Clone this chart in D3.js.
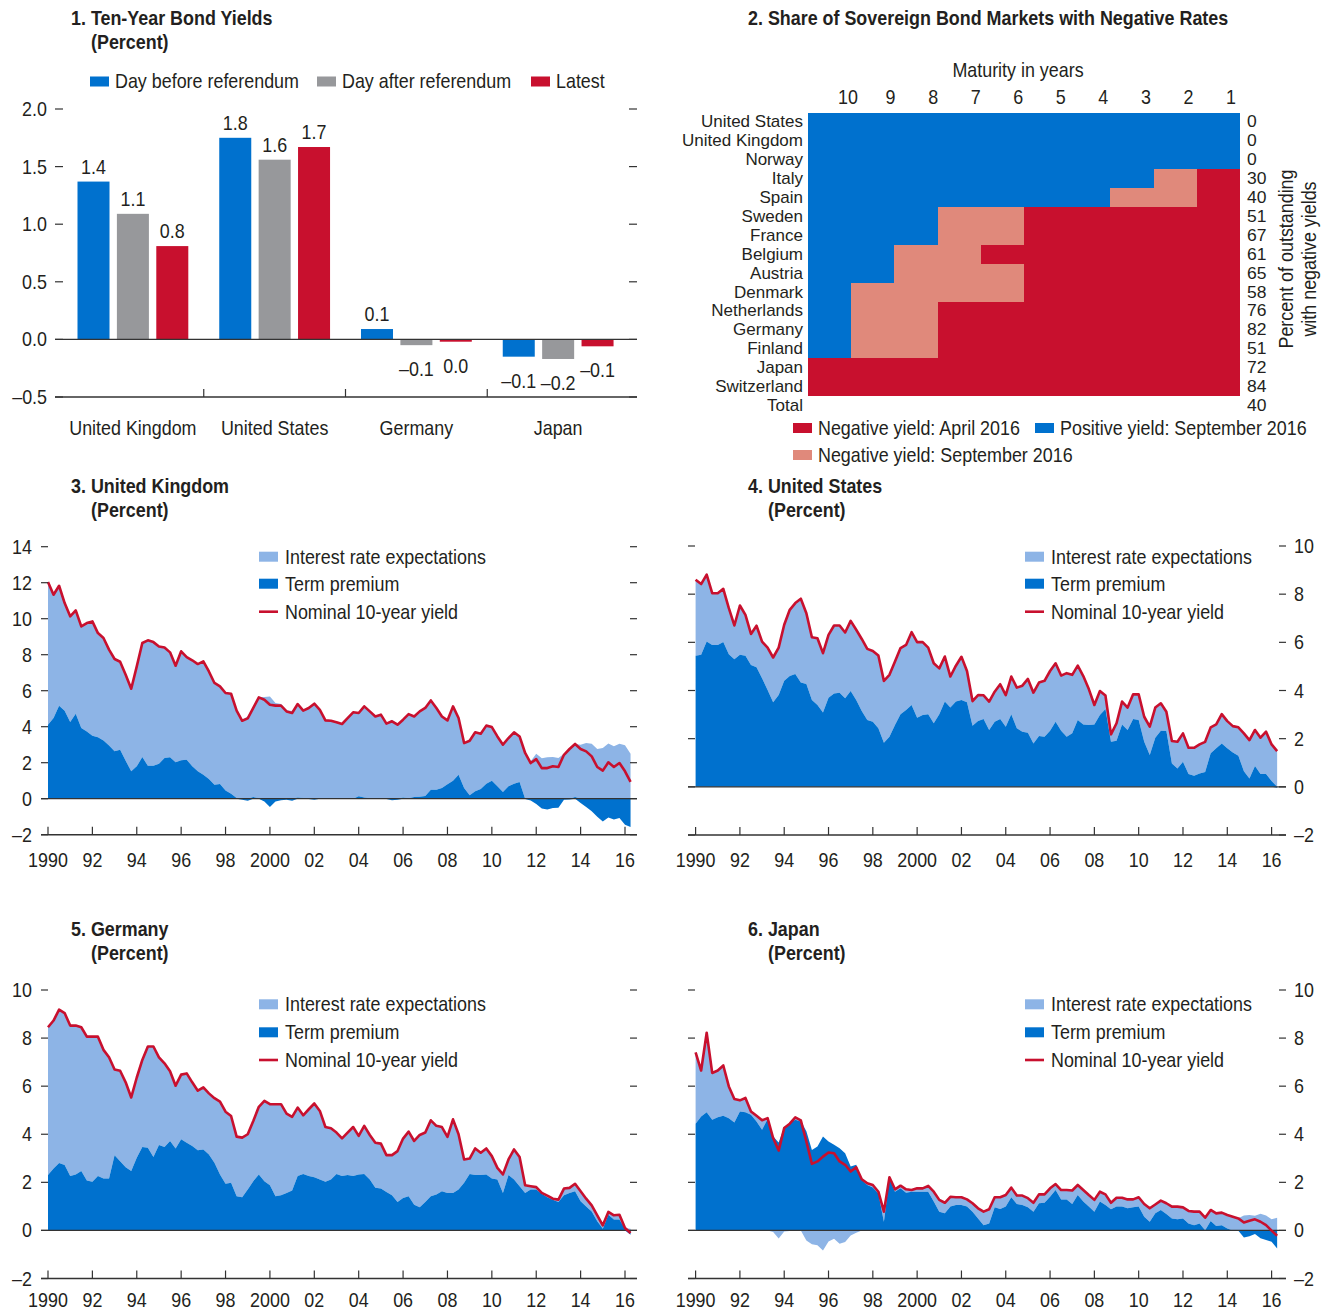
<!DOCTYPE html>
<html><head><meta charset="utf-8">
<script src="https://cdn.jsdelivr.net/npm/d3@7"></script>
<style>
body{margin:0;background:#fff;}
svg text{font-family:"Liberation Sans",Arimo,Arial,sans-serif;fill:#231f20;font-size:20px;}
</style></head><body>
<svg id="c" width="1335" height="1313"></svg>
<script>
// ---------- Panel 1 data ----------
const barCountries = ["United Kingdom","United States","Germany","Japan"];
const barSeries = ["Day before referendum","Day after referendum","Latest"];
const dayBefore = [1.37, 1.75, 0.09, -0.15];
const dayAfter  = [1.09, 1.56, -0.05, -0.17];
const latest    = [0.81, 1.67, -0.02, -0.06];
const barLabels = [["1.4","1.1","0.8"],["1.8","1.6","1.7"],["0.1","–0.1","0.0"],["–0.1","–0.2","–0.1"]];
const barTicks = [-0.5, 0, 0.5, 1.0, 1.5, 2.0];

// ---------- Panel 2 data ----------
const heatCountries = ["United States","United Kingdom","Norway","Italy","Spain","Sweden","France","Belgium","Austria","Denmark","Netherlands","Germany","Finland","Japan","Switzerland"];
const maturities = [10,9,8,7,6,5,4,3,2,1];
// B = positive yield Sep 2016, P = negative yield Sep 2016, R = negative yield Apr 2016 (maturity 10 ... 1)
const heatStatus = ["BBBBBBBBBB","BBBBBBBBBB","BBBBBBBBBB","BBBBBBBBPR","BBBBBBBPPR","BBBPPRRRRR","BBBPPRRRRR","BBPPRRRRRR","BBPPPRRRRR","BPPPPRRRRR","BPPRRRRRRR","BPPRRRRRRR","BPPRRRRRRR","RRRRRRRRRR","RRRRRRRRRR"];
const heatShare = [0,0,0,30,40,51,67,61,65,58,76,82,51,72,84];
const totalShare = 40;

// ---------- Panels 3-6 data (quarterly, 1990:Q1 - 2016:Q2) ----------
const yearTicks = [1990,1992,1994,1996,1998,2000,2002,2004,2006,2008,2010,2012,2014,2016];
const yearLabels = ["1990","92","94","96","98","2000","02","04","06","08","10","12","14","16"];

const ukYield = [12.04,11.33,11.83,10.87,10.13,10.46,9.57,9.76,9.85,9.2,8.93,8.28,7.76,7.61,6.89,6.11,7.35,8.65,8.8,8.7,8.46,8.4,8.13,7.39,8.19,7.87,7.69,7.48,7.63,7.07,6.43,6.24,5.87,5.83,4.89,4.33,4.46,5.04,5.63,5.5,5.22,5.17,5.17,4.85,4.76,5.26,4.89,5.04,5.28,4.94,4.35,4.33,4.25,
4.15,4.48,4.8,4.76,5.13,4.85,4.57,4.67,4.17,4.3,4.11,4.39,4.7,4.57,4.85,5.04,5.46,5.04,4.57,4.35,5.13,4.48,3.09,3.22,3.69,3.61,4.06,3.98,3.46,3.0,3.37,3.69,3.46,2.54,1.98,2.2,1.7,1.7,1.8,1.76,2.44,2.76,3.04,2.76,2.63,2.35,1.76,1.56,2.02,1.76,1.98,1.52,0.93];
const ukTP = [4.11,4.48,5.17,4.89,4.26,4.72,3.93,3.74,3.5,3.41,3.24,2.96,2.63,2.72,2.11,1.52,1.8,2.31,1.83,1.83,1.94,2.26,2.3,2.02,2.13,2.17,1.8,1.52,1.33,1.09,0.78,0.81,0.46,0.28,0.04,-0.06,-0.11,0.09,0.02,-0.15,-0.46,-0.15,-0.09,-0.06,-0.11,0.07,0.04,-0.02,-0.06,0.02,0.04,0.04,0.02,
-0.02,0.02,-0.02,0.13,0.06,0.02,0,0.02,-0.02,-0.09,-0.06,0.06,0.02,0.09,0.11,0.15,0.5,0.5,0.6,0.8,1.0,1.33,0.6,0.19,0.41,0.54,0.83,1.0,0.69,0.37,0.69,0.83,0.93,-0.02,-0.1,-0.3,-0.55,-0.6,-0.52,-0.5,-0.06,-0.04,0.09,-0.24,-0.46,-0.7,-1.0,-1.26,-1.05,-1.15,-1.07,-1.45,-1.57];

const usYield = [8.6,8.42,8.81,8.04,8.04,8.22,7.42,6.7,7.53,7.14,6.35,6.69,6.03,5.78,5.37,5.78,6.73,7.35,7.63,7.81,7.21,6.21,6.17,5.55,6.31,6.7,6.7,6.41,6.89,6.52,6.14,5.73,5.64,5.45,4.4,4.65,5.2,5.76,5.89,6.42,6.01,6.01,5.78,5.13,4.92,5.41,4.58,5.03,5.4,4.81,3.56,3.81,
3.8,3.54,3.95,4.26,3.81,4.58,4.12,4.2,4.48,3.91,4.33,4.4,4.81,5.13,4.62,4.72,4.65,5.03,4.6,4.06,3.4,3.98,3.79,2.18,2.64,3.54,3.29,3.84,3.84,2.91,2.5,3.29,3.47,3.12,1.9,1.87,2.22,1.62,1.62,1.76,1.87,2.47,2.59,3.02,2.73,2.52,2.47,2.22,1.94,2.36,2.04,2.29,1.76,1.48];
const usTP = [5.44,5.48,6.03,5.89,5.89,6.01,5.51,5.3,5.48,5.44,5.06,4.97,4.51,4.02,3.51,3.81,4.4,4.6,4.69,4.33,4.27,3.61,3.4,3.09,3.7,3.88,3.91,3.68,3.98,3.61,3.15,2.77,2.7,2.43,1.83,2.08,2.57,3.01,3.19,3.4,2.87,2.98,3.01,2.64,3.01,3.54,3.29,3.54,3.61,3.51,2.54,2.73,
2.82,2.36,2.7,2.82,2.5,3.01,2.43,2.29,2.25,1.8,2.11,2.08,2.33,2.7,2.33,2.08,2.22,2.77,2.59,2.57,2.59,2.98,3.23,1.87,1.91,2.59,2.36,2.82,2.77,1.87,1.32,2.04,2.33,2.32,0.97,0.76,1.04,0.53,0.46,0.55,0.62,1.39,1.6,1.8,1.6,1.43,1.29,0.65,0.35,0.86,0.53,0.53,0.24,-0.04];

const deYield = [8.45,8.73,9.18,9.04,8.52,8.52,8.45,8.06,8.06,8.06,7.51,7.2,6.69,6.64,6.16,5.53,6.36,7.09,7.65,7.65,7.2,6.95,6.62,6.02,6.48,6.53,6.16,5.81,5.95,5.7,5.5,5.36,4.94,4.76,3.9,3.86,4.0,4.55,5.14,5.39,5.25,5.25,5.25,4.86,4.72,5.11,4.79,5.04,5.28,4.97,4.3,4.25,4.07,3.83,4.07,4.3,3.93,4.35,3.97,3.65,3.61,3.13,3.13,3.3,3.82,4.11,3.72,3.97,4.07,4.58,4.35,4.3,3.89,4.62,4.0,2.95,2.99,3.41,3.23,3.41,3.09,2.6,2.33,2.95,3.37,3.05,1.88,1.84,1.8,1.56,1.45,1.32,1.28,1.74,1.77,1.94,1.63,1.32,1.04,0.63,0.21,0.77,0.63,0.65,0.1,-0.11];
const deTP = [2.3,2.58,2.8,2.72,2.26,2.33,2.47,2.08,2.02,2.26,2.16,2.16,3.13,2.88,2.63,2.47,3.02,3.47,3.44,3.05,3.55,3.47,3.72,3.41,3.79,3.65,3.51,3.33,3.37,3.16,2.81,2.33,1.94,1.98,1.42,1.38,1.7,2.05,2.33,2.05,1.88,1.42,1.46,1.56,1.66,2.26,2.35,2.26,2.21,2.12,2.02,2.12,2.35,2.26,2.3,2.26,2.33,2.35,2.12,1.77,1.74,1.6,1.46,1.18,1.35,1.42,1.07,0.96,1.18,1.42,1.49,1.63,1.56,1.56,1.7,1.98,2.35,2.3,2.3,2.33,2.16,2.12,1.56,2.3,2.12,1.84,1.56,1.7,1.7,1.52,1.38,1.28,1.18,1.46,1.56,1.63,1.21,1.0,0.79,0.38,0.07,0.65,0.45,0.45,0.07,-0.18];

const jpYield = [7.41,6.65,8.22,6.55,6.65,6.86,5.99,5.47,5.41,5.51,4.95,4.77,4.58,4.67,3.84,3.32,4.26,4.44,4.7,4.58,3.7,2.77,2.87,3.07,3.24,3.21,2.87,2.73,2.45,2.63,2.13,1.96,1.89,1.61,0.78,2.21,1.71,1.86,1.71,1.68,1.75,1.75,1.85,1.61,1.27,1.15,1.4,1.38,1.38,1.29,1.13,0.92,0.78,0.88,1.38,1.38,1.47,1.78,1.45,1.45,1.34,1.15,1.5,1.5,1.75,1.93,1.68,1.68,1.66,1.89,1.68,1.47,1.27,1.61,1.5,1.15,1.36,1.36,1.29,1.29,1.38,1.1,0.92,1.08,1.24,1.13,0.99,0.99,0.96,0.81,0.78,0.78,0.53,0.85,0.71,0.74,0.64,0.57,0.5,0.33,0.4,0.46,0.36,0.22,-0.01,-0.22];
const jpTP = [4.44,4.74,4.91,4.6,4.71,4.77,4.67,4.49,4.95,4.91,4.81,4.53,4.19,4.63,3.91,3.66,4.3,4.46,4.6,4.53,4.12,3.35,3.49,3.91,3.7,3.56,3.42,3.21,2.66,2.73,2.1,1.89,1.79,1.54,0.36,2.17,1.61,1.75,1.57,1.61,1.61,1.61,1.61,1.2,0.78,0.71,0.99,1.06,1.06,0.99,0.78,0.5,0.22,0.29,0.96,0.89,0.99,1.38,1.1,1.06,0.96,0.78,1.13,1.15,1.4,1.68,1.29,1.29,1.1,1.47,1.2,0.99,0.78,1.2,1.06,0.88,0.99,0.99,0.92,0.96,0.99,0.57,0.36,0.71,0.85,0.68,0.5,0.46,0.5,0.29,0.22,0.29,0.01,0.39,0.18,0.22,0.08,-0.01,-0.01,-0.29,-0.24,-0.15,-0.33,-0.4,-0.47,-0.75];

const legendLabels = ["Interest rate expectations","Term premium","Nominal 10-year yield"];

// ---------- styles ----------
const C = {blue:"#0071ce", grey:"#97989b", red:"#c8102e", pink:"#e0897b", light:"#8db4e6", axis:"#333", text:"#231f20"};
const SX = 0.895; // horizontal condensing to mimic the condensed face
const svg = d3.select("#c");
const fmtTick = v => d3.format(".1f")(v).replace("−","–");

function txt(g, x, y, s, opt={}) {
  const rot = opt.rotate ? ` rotate(${opt.rotate})` : "";
  const sx = opt.sx || SX;
  const t = g.append("text").attr("transform", `translate(${x},${y})${rot} scale(${sx},1)`).attr("dy","0.35em").text(s);
  if (opt.anchor) t.attr("text-anchor", opt.anchor);
  if (opt.bold) t.attr("font-weight","bold");
  if (opt.size) t.style("font-size", opt.size+"px");
  return t;
}

// ================= Panel 1: bars =================
(function(){
  const g = svg.append("g");
  txt(g, 71, 18, "1. Ten-Year Bond Yields", {bold:true});
  txt(g, 91, 42, "(Percent)", {bold:true});
  const colors = [C.blue, C.grey, C.red];
  const legX = [90, 317, 531];
  barSeries.forEach((s,i)=>{
    g.append("rect").attr("x",legX[i]).attr("y",76.5).attr("width",19).attr("height",10).attr("fill",colors[i]);
    txt(g, legX[i]+25, 81, s);
  });
  const x0 = d3.scaleBand().domain(barCountries).range([62, 629]);
  const x1 = d3.scaleBand().domain(barSeries).range([15.5, 126.3]).paddingInner(0.1875);
  const y = d3.scaleLinear().domain([-0.5, 2.0]).range([397, 109]);
  barTicks.forEach(v=>{
    g.append("line").attr("x1",55).attr("x2",63).attr("y1",y(v)).attr("y2",y(v)).attr("stroke",C.axis).attr("stroke-width",1.2);
    g.append("line").attr("x1",629).attr("x2",637).attr("y1",y(v)).attr("y2",y(v)).attr("stroke",C.axis).attr("stroke-width",1.2);
    txt(g, 47, y(v), fmtTick(v), {anchor:"end"});
  });
  const vals = [dayBefore, dayAfter, latest];
  barCountries.forEach((c,ci)=>{
    barSeries.forEach((s,si)=>{
      const v = vals[si][ci];
      const bx = x0(c) + x1(s);
      g.append("rect").attr("x",bx).attr("width",x1.bandwidth())
        .attr("y", y(Math.max(0,v))).attr("height", Math.abs(y(v)-y(0))).attr("fill", colors[si]);
      const lab = barLabels[ci][si];
      const ly = v >= 0 ? y(v) - 15 : y(v) + 24;
      txt(g, bx + x1.bandwidth()/2, ly, lab, {anchor:"middle"});
    });
    txt(g, x0(c) + x0.bandwidth()/2, 428, c, {anchor:"middle"});
  });
  g.append("line").attr("x1",55).attr("x2",637).attr("y1",y(0)).attr("y2",y(0)).attr("stroke",C.axis).attr("stroke-width",1.3);
  g.append("line").attr("x1",55).attr("x2",637).attr("y1",y(-0.5)).attr("y2",y(-0.5)).attr("stroke",C.axis).attr("stroke-width",1.5);
  barCountries.slice(1).forEach(c=>{
    g.append("line").attr("x1",x0(c)).attr("x2",x0(c)).attr("y1",y(-0.5)).attr("y2",y(-0.5)-8).attr("stroke",C.axis).attr("stroke-width",1.2);
  });
})();

// ================= Panel 2: heatmap =================
(function(){
  const g = svg.append("g");
  txt(g, 748, 18, "2. Share of Sovereign Bond Markets with Negative Rates", {bold:true});
  const hx = d3.scaleBand().domain(maturities).range([808, 1240]);
  const hy = d3.scaleBand().domain([...heatCountries, "Total"]).range([112.5, 112.5 + 16*18.9]);
  const lx = d3.scalePoint().domain(maturities).range([848, 1231]);
  const col = {B:C.blue, P:C.pink, R:C.red};
  txt(g, 1018, 70, "Maturity in years", {anchor:"middle"});
  maturities.forEach(m=> txt(g, lx(m), 97, String(m), {anchor:"middle"}));
  heatCountries.forEach((c,ri)=>{
    heatStatus[ri].split("").forEach((s,mi)=>{
      g.append("rect").attr("x",hx(maturities[mi])).attr("y",hy(c))
        .attr("width",hx.bandwidth()+0.4).attr("height",hy.bandwidth()+0.4)
        .attr("fill",col[s]).attr("shape-rendering","crispEdges");
    });
  });
  [...heatCountries, "Total"].forEach((c,ri)=>{
    const cy = hy(c) + hy.bandwidth()/2 - 0.5;
    txt(g, 803, cy, c, {anchor:"end", size:17, sx:1.0});
    txt(g, 1247, cy, String(ri < heatShare.length ? heatShare[ri] : totalShare), {size:17, sx:1.03});
  });
  txt(g, 1286, 259, "Percent of outstanding", {anchor:"middle", rotate:-90});
  txt(g, 1309, 259, "with negative yields", {anchor:"middle", rotate:-90});
  const leg = [[793,428,C.red,"Negative yield: April 2016"],[1035,428,C.blue,"Positive yield: September 2016"],[793,455,C.pink,"Negative yield: September 2016"]];
  leg.forEach(([x,yy,c,s])=>{
    g.append("rect").attr("x",x).attr("y",yy-5).attr("width",19).attr("height",10).attr("fill",c);
    txt(g, x+25, yy, s);
  });
})();

// ================= Panels 3-6 =================
const quarters = d3.range(ukYield.length).map(i => 1990 + i/4);
const panels = [
  {title:"3. United Kingdom", tx:71, ty:486, yld:ukYield, tp:ukTP, xr:[48,625], axL:41, axR:637, yd:[-2,14], yr:[834.7,546.7], ticks:[-2,0,2,4,6,8,10,12,14], side:"left", labX:32, legX:259, legY:[556.7,583.7,611.7], yearY:860},
  {title:"4. United States", tx:748, ty:486, yld:usYield, tp:usTP, xr:[695.6,1271.6], axL:688, axR:1286, yd:[-2,10], yr:[835,546], ticks:[-2,0,2,4,6,8,10], side:"right", labX:1294, legX:1025, legY:[556.7,583.7,611.7], yearY:860},
  {title:"5. Germany", tx:71, ty:929, yld:deYield, tp:deTP, xr:[48,625], axL:41, axR:637, yd:[-2,10], yr:[1278.5,990], ticks:[-2,0,2,4,6,8,10], side:"left", labX:32, legX:259, legY:[1004.3,1032.3,1060], yearY:1300},
  {title:"6. Japan", tx:748, ty:929, yld:jpYield, tp:jpTP, xr:[695.6,1271.6], axL:688, axR:1286, yd:[-2,10], yr:[1278.5,990], ticks:[-2,0,2,4,6,8,10], side:"right", labX:1294, legX:1025, legY:[1004.3,1032.3,1060], yearY:1300}
];

panels.forEach(p=>{
  const g = svg.append("g");
  txt(g, p.tx, p.ty, p.title, {bold:true});
  txt(g, p.tx+20, p.ty+24, "(Percent)", {bold:true});
  const x = d3.scaleLinear().domain([1990,2016]).range(p.xr);
  const y = d3.scaleLinear().domain(p.yd).range(p.yr);
  const rows = quarters.map((q,i)=>{
    const tp = p.tp[i], ex = p.yld[i] - p.tp[i];
    return {q, yld:p.yld[i], tpP:Math.max(tp,0), tpN:Math.min(tp,0), exP:Math.max(ex,0), exN:Math.min(ex,0)};
  });
  const area = (f0,f1)=> d3.area().x(d=>x(d.q)).y0(d=>y(f0(d))).y1(d=>y(f1(d)));
  g.append("path").datum(rows).attr("fill",C.light).attr("d", area(d=>d.tpP, d=>d.tpP+d.exP));
  g.append("path").datum(rows).attr("fill",C.light).attr("d", area(d=>d.tpN, d=>d.tpN+d.exN));
  g.append("path").datum(rows).attr("fill",C.blue).attr("d", area(d=>0, d=>d.tpP));
  g.append("path").datum(rows).attr("fill",C.blue).attr("d", area(d=>0, d=>d.tpN));
  g.append("line").attr("x1",p.axL).attr("x2",p.axR).attr("y1",y(0)).attr("y2",y(0)).attr("stroke",C.axis).attr("stroke-width",1.3);
  g.append("path").datum(rows).attr("fill","none").attr("stroke",C.red).attr("stroke-width",2.6).attr("stroke-linejoin","round")
    .attr("d", d3.line().x(d=>x(d.q)).y(d=>y(d.yld)));
  p.ticks.forEach(v=>{
    g.append("line").attr("x1",p.axL).attr("x2",p.axL+7).attr("y1",y(v)).attr("y2",y(v)).attr("stroke",C.axis).attr("stroke-width",1.2);
    g.append("line").attr("x1",p.axR-7).attr("x2",p.axR).attr("y1",y(v)).attr("y2",y(v)).attr("stroke",C.axis).attr("stroke-width",1.2);
    const s = d3.format("d")(v).replace("−","–");
    if (p.side === "left") txt(g, p.labX, y(v), s, {anchor:"end"});
    else txt(g, p.labX, y(v), s);
  });
  const yb = y(p.yd[0]);
  g.append("line").attr("x1",p.axL).attr("x2",p.axR).attr("y1",yb).attr("y2",yb).attr("stroke",C.axis).attr("stroke-width",1.5);
  yearTicks.forEach((t,i)=>{
    g.append("line").attr("x1",x(t)).attr("x2",x(t)).attr("y1",yb).attr("y2",yb-8).attr("stroke",C.axis).attr("stroke-width",1.2);
    txt(g, x(t), p.yearY, yearLabels[i], {anchor:"middle"});
  });
  g.append("rect").attr("x",p.legX).attr("y",p.legY[0]-5).attr("width",19).attr("height",10).attr("fill",C.light);
  g.append("rect").attr("x",p.legX).attr("y",p.legY[1]-5).attr("width",19).attr("height",10).attr("fill",C.blue);
  g.append("line").attr("x1",p.legX).attr("x2",p.legX+19).attr("y1",p.legY[2]).attr("y2",p.legY[2]).attr("stroke",C.red).attr("stroke-width",2.6);
  legendLabels.forEach((s,i)=> txt(g, p.legX+26, p.legY[i], s));
});
</script>
</body></html>
